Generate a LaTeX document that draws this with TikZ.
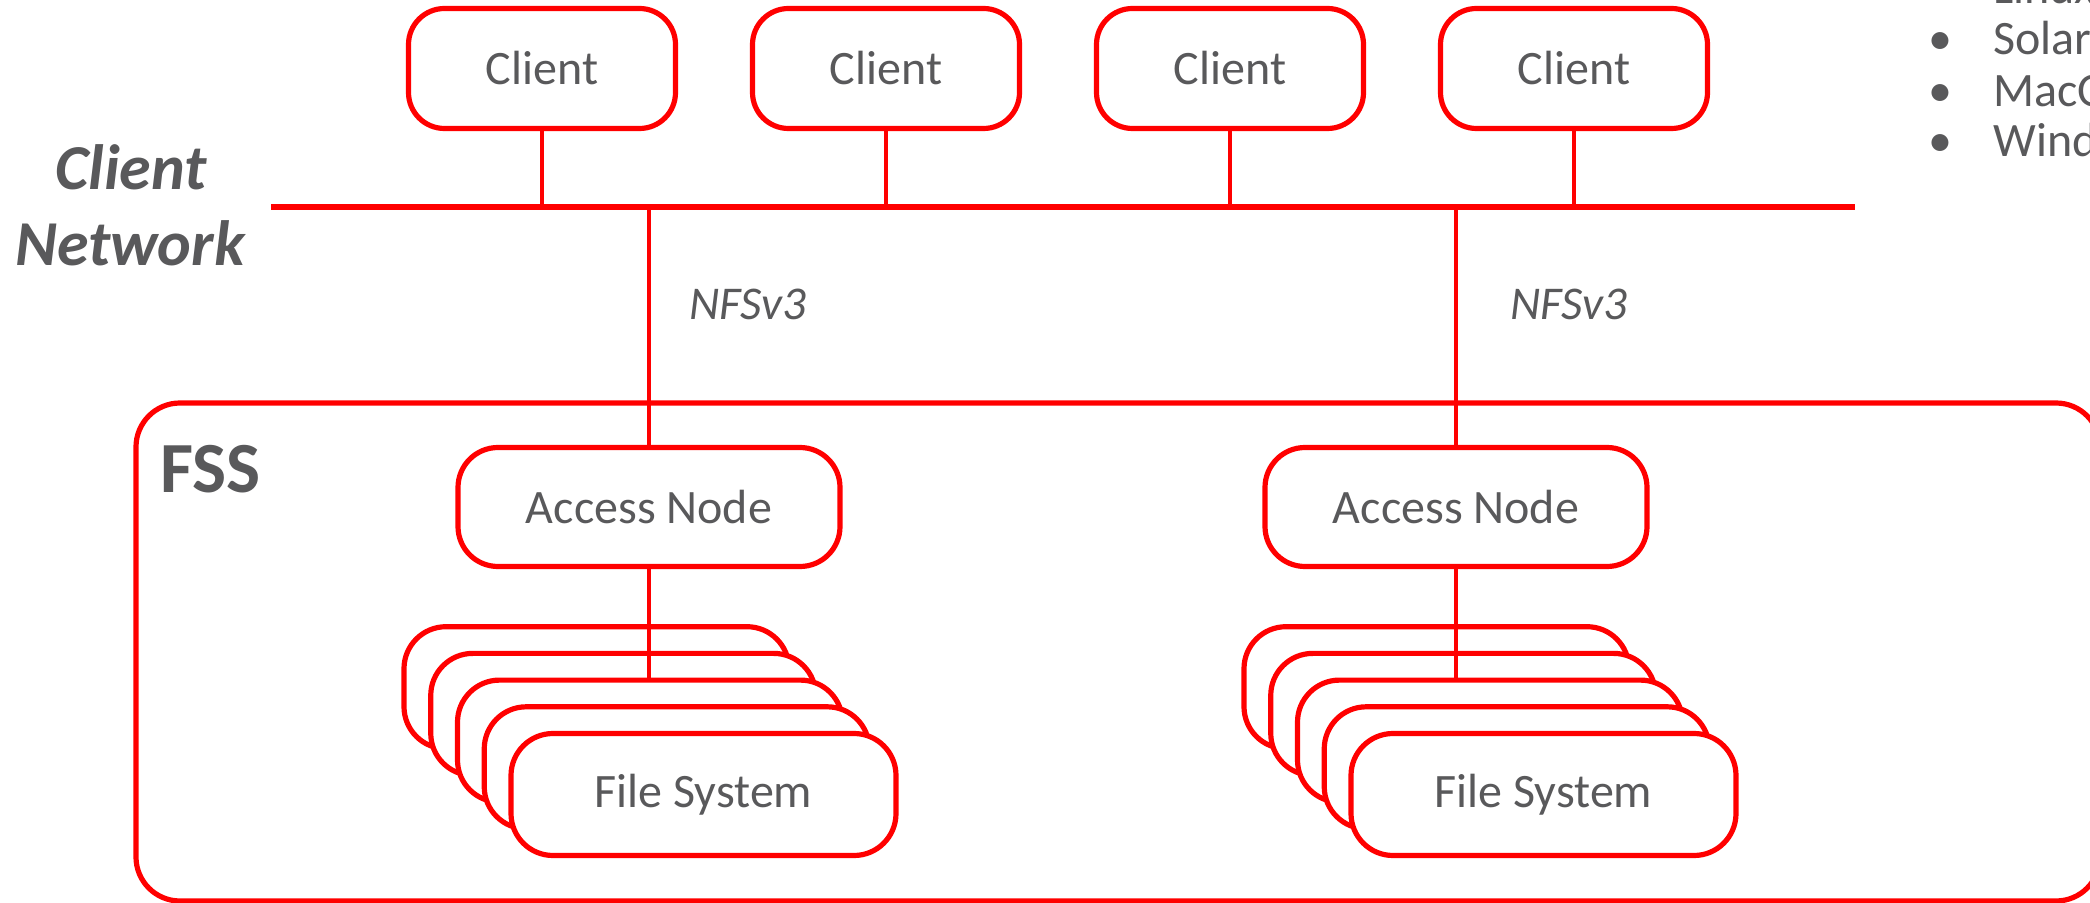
\documentclass[tikz,border=0pt]{standalone}
\usepackage{fontspec}
\setmainfont{Carlito}
\usetikzlibrary{calc}
\definecolor{netred}{RGB}{255,0,0}
\definecolor{ink}{RGB}{89,89,91}
\begin{document}
\begin{tikzpicture}[x=0.5pt,y=-0.5pt,
  box/.style={draw=netred, line width=2.6pt, fill=white, rounded corners=18pt,
    text=ink, font=\fontsize{24}{28}\selectfont, inner sep=0pt},
  client/.style={box, minimum width=133.5pt, minimum height=60pt},
  access/.style={box, minimum width=191pt, minimum height=59.5pt, rounded corners=20pt},
  fsbox/.style={box, minimum width=192.5pt, minimum height=61pt, rounded corners=21pt},
  wire/.style={draw=netred, line width=2.4pt},
  bus/.style={draw=netred, line width=3pt},
  txt/.style={text=ink, inner sep=0pt},
  bodyfont/.style={font=\fontsize{24}{28}\selectfont},
]
\path[use as bounding box] (0,0) rectangle (2090,903);
\clip (0,0) rectangle (2090,903);

% storage service frame
\draw[draw=netred, line width=2.6pt, rounded corners=22pt] (136,403) rectangle (2100,901);
\node[txt, anchor=base west, font=\fontsize{36}{40}\selectfont\bfseries] (fss) at (160,493) {FSS};

% client network bus
\coordinate (netL) at (271,207);
\coordinate (netR) at (1855,207);
\draw[bus] (netL) -- (netR);
\node[txt, anchor=base, font=\fontsize{32}{36}\selectfont\bfseries\itshape] (cnA) at (131,190) {Client};
\node[txt, anchor=base, font=\fontsize{32}{36}\selectfont\bfseries\itshape] (cnB) at (130,266) {Network};

% clients
\node[client] (c1) at (542,68.5) {Client};
\node[client] (c2) at (886,68.5) {Client};
\node[client] (c3) at (1230,68.5) {Client};
\node[client] (c4) at (1574,68.5) {Client};
\foreach \c in {c1,c2,c3,c4}
  \draw[wire] (\c.south) -- (\c.south |- netL);

% supported client platforms
\foreach \name/\yy in {Linux/4,Solaris/55,MacOS/107,Windows/157}{
  \node[txt, bodyfont, anchor=base] at (1940,\yy) {•};
  \node[txt, bodyfont, anchor=base west] at (1993,\yy) {\name};
}

% access nodes
\node[access] (an1) at (649,507) {Access Node};
\node[access] (an2) at (1456,507) {Access Node};
\draw[wire] (an1.north) -- (an1.north |- netL);
\draw[wire] (an2.north) -- (an2.north |- netL);
\node[txt, font=\fontsize{23.5}{27}\selectfont\itshape] (nfs1) at (748,304) {NFSv3};
\node[txt, font=\fontsize{23.5}{27}\selectfont\itshape] (nfs2) at (1569,304) {NFSv3};

% file system stacks
\foreach \k in {4,3,2,1}
  \node[fsbox] (fsa\k) at ({703.5-26.75*\k},{794.5-26.7*\k}) {};
\node[fsbox] (fsa0) at (703.5,794.5) {File System};
\foreach \k in {4,3,2,1}
  \node[fsbox] (fsb\k) at ({1543.5-26.75*\k},{794.5-26.7*\k}) {};
\node[fsbox] (fsb0) at (1543.5,794.5) {File System};

\draw[wire] (an1.south) -- (an1.south |- fsa2.north);
\draw[wire] (an2.south) -- (an2.south |- fsb2.north);
\end{tikzpicture}
\end{document}
